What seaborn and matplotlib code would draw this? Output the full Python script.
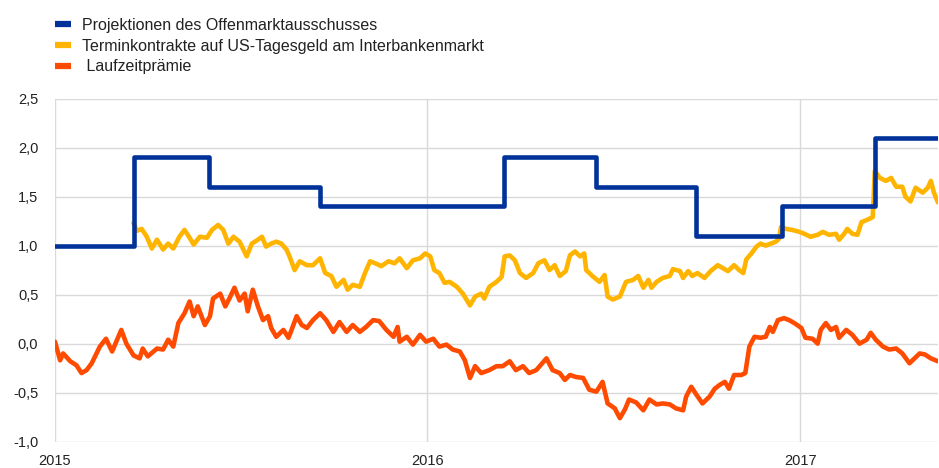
import matplotlib
matplotlib.use("Agg")
import matplotlib.pyplot as plt
from matplotlib.ticker import FuncFormatter
import seaborn as sns
import pandas as pd

# ---------------- data ----------------
START = "2015-01-01"
END_DAY = 866  # days after start shown on the x axis

labels = ["Projektionen des Offenmarktausschusses",
          "Terminkontrakte auf US-Tagesgeld am Interbankenmarkt",
          " Laufzeitprämie"]
colors = ["#003299", "#FFB400", "#FF4B00"]

# FOMC projections: step changes (days after 2015-01-01) and levels
fomc_days = [0, 77, 151, 260, 440, 531, 629, 713, 804, 866]
fomc_vals = [1.0, 1.9, 1.6, 1.4, 1.9, 1.6, 1.1, 1.4, 2.1, 2.1]

# Fed funds futures
fut_days = [77, 80, 85, 90, 95, 100, 106, 111, 116, 122, 127, 132, 136, 142, 149, 154,
            160, 165, 170, 175, 181, 188, 193, 199, 203, 207, 212, 217, 222, 227, 230,
            235, 240, 247, 253, 260, 265, 271, 276, 283, 287, 292, 299, 304, 309, 314,
            320, 327, 333, 338, 345, 351, 358, 363, 368, 372, 377, 382, 387, 394, 400,
            407, 412, 418, 421, 426, 433, 438, 441, 446, 451, 456, 462, 469, 474, 480,
            485, 490, 495, 501, 505, 510, 515, 519, 521, 527, 534, 539, 542, 547, 554,
            560, 567, 572, 577, 582, 585, 590, 596, 603, 606, 613, 616, 621, 625, 630,
            637, 643, 650, 655, 660, 666, 671, 675, 678, 683, 688, 692, 697, 702, 707,
            710, 712, 717, 723, 730, 735, 741, 748, 753, 759, 766, 769, 774, 777, 782,
            787, 791, 796, 802, 804, 809, 815, 820, 825, 831, 834, 839, 844, 851, 856,
            859, 862, 866]
fut_vals = [1.23, 1.15, 1.17, 1.09, 0.97, 1.06, 0.96, 1.02, 0.97, 1.09, 1.16, 1.08, 1.01,
            1.09, 1.08, 1.16, 1.21, 1.16, 1.02, 1.09, 1.04, 0.89, 1.02, 1.06, 1.09, 0.99,
            1.02, 1.04, 1.02, 0.96, 0.89, 0.75, 0.84, 0.80, 0.80, 0.87, 0.72, 0.69, 0.58,
            0.65, 0.55, 0.60, 0.58, 0.72, 0.84, 0.82, 0.79, 0.84, 0.82, 0.87, 0.77, 0.85,
            0.87, 0.92, 0.89, 0.75, 0.72, 0.62, 0.63, 0.58, 0.51, 0.39, 0.48, 0.51, 0.46,
            0.58, 0.63, 0.68, 0.89, 0.90, 0.85, 0.72, 0.67, 0.72, 0.82, 0.85, 0.75, 0.80,
            0.69, 0.74, 0.90, 0.94, 0.89, 0.92, 0.75, 0.69, 0.63, 0.70, 0.48, 0.45, 0.48,
            0.63, 0.65, 0.69, 0.57, 0.65, 0.57, 0.63, 0.67, 0.69, 0.76, 0.74, 0.67, 0.74,
            0.69, 0.72, 0.67, 0.74, 0.80, 0.77, 0.74, 0.80, 0.75, 0.72, 0.86, 0.92, 0.99,
            1.02, 1.00, 1.02, 1.04, 1.07, 1.19, 1.17, 1.16, 1.14, 1.12, 1.09, 1.11, 1.14,
            1.11, 1.12, 1.06, 1.12, 1.17, 1.12, 1.11, 1.24, 1.26, 1.29, 1.76, 1.69, 1.66,
            1.69, 1.60, 1.60, 1.50, 1.45, 1.59, 1.54, 1.59, 1.66, 1.54, 1.44]

# Term premium
tp_days = [0, 5, 8, 15, 21, 26, 31, 36, 44, 50, 56, 65, 70, 77, 83, 86, 91, 100, 106, 111,
           116, 121, 127, 132, 136, 140, 147, 152, 155, 162, 167, 171, 176, 181, 186, 189,
           194, 199, 204, 209, 212, 217, 224, 229, 232, 237, 242, 247, 253, 260, 266, 273,
           279, 286, 292, 299, 305, 312, 318, 325, 332, 336, 338, 345, 351, 358, 364, 371,
           377, 384, 390, 397, 402, 407, 412, 418, 426, 433, 439, 446, 452, 459, 465, 472,
           477, 482, 488, 495, 500, 505, 511, 518, 524, 531, 537, 542, 549, 554, 559, 563,
           570, 577, 583, 590, 596, 603, 609, 616, 619, 624, 629, 635, 642, 647, 652, 657,
           661, 666, 673, 677, 681, 686, 692, 697, 701, 704, 709, 715, 720, 725, 732, 736,
           743, 748, 751, 756, 761, 766, 769, 776, 782, 789, 796, 800, 805, 812, 818, 825,
           831, 838, 843, 848, 853, 859, 866]
tp_vals = [0.02, -0.17, -0.10, -0.18, -0.22, -0.30, -0.27, -0.20, -0.03, 0.05, -0.08, 0.14,
           0.00, -0.12, -0.15, -0.05, -0.13, -0.05, -0.06, 0.04, -0.03, 0.21, 0.31, 0.43,
           0.28, 0.38, 0.19, 0.28, 0.46, 0.51, 0.38, 0.46, 0.57, 0.44, 0.51, 0.33, 0.55,
           0.38, 0.24, 0.28, 0.16, 0.07, 0.14, 0.06, 0.14, 0.28, 0.19, 0.16, 0.24, 0.31,
           0.24, 0.12, 0.22, 0.12, 0.19, 0.12, 0.17, 0.24, 0.23, 0.14, 0.07, 0.17, 0.02,
           0.07, -0.01, 0.09, 0.02, 0.05, -0.03, -0.01, -0.06, -0.08, -0.17, -0.35, -0.23,
           -0.30, -0.27, -0.23, -0.23, -0.18, -0.27, -0.23, -0.30, -0.27, -0.21, -0.15,
           -0.27, -0.30, -0.37, -0.32, -0.34, -0.35, -0.47, -0.49, -0.39, -0.61, -0.66,
           -0.76, -0.67, -0.57, -0.60, -0.68, -0.57, -0.62, -0.61, -0.62, -0.66, -0.68,
           -0.54, -0.44, -0.52, -0.61, -0.54, -0.46, -0.42, -0.39, -0.46, -0.32, -0.32,
           -0.30, -0.03, 0.07, 0.06, 0.07, 0.17, 0.12, 0.24, 0.26, 0.24, 0.21, 0.16, 0.06,
           0.05, 0.00, 0.14, 0.21, 0.14, 0.17, 0.06, 0.14, 0.09, 0.00, 0.04, 0.11, 0.04,
           -0.03, -0.06, -0.05, -0.10, -0.20, -0.15, -0.10, -0.11, -0.15, -0.18]

year_ticks = ["2015-01-01", "2016-01-01", "2017-01-01"]
year_labels = ["2015", "2016", "2017"]
y_ticks = [-1.0, -0.5, 0.0, 0.5, 1.0, 1.5, 2.0, 2.5]

# ---------------- build frames ----------------
t0 = pd.Timestamp(START)
def to_dates(days):
    return t0 + pd.to_timedelta(days, unit="D")

df_fomc = pd.DataFrame({"date": to_dates(fomc_days), "value": fomc_vals})
df_fut = pd.DataFrame({"date": to_dates(fut_days), "value": fut_vals})
df_tp = pd.DataFrame({"date": to_dates(tp_days), "value": tp_vals})

# ---------------- plot ----------------
sns.set_theme(style="white")
plt.rcParams["font.family"] = ["Liberation Sans", "DejaVu Sans"]

fig = plt.figure(figsize=(9.39, 4.68), dpi=100)
ax = fig.add_axes([55 / 939, (468 - 441.7) / 468, 883 / 939, 343.2 / 468])

lw = 3.3
sns.lineplot(data=df_fomc, x="date", y="value", ax=ax, color=colors[0], lw=lw,
             drawstyle="steps-post", label=labels[0], zorder=3)
sns.lineplot(data=df_fut, x="date", y="value", ax=ax, color=colors[1], lw=lw,
             label=labels[1], zorder=2)
sns.lineplot(data=df_tp, x="date", y="value", ax=ax, color=colors[2], lw=lw,
             label=labels[2], zorder=2)

ax.set_xlim(t0, t0 + pd.Timedelta(days=END_DAY))
ax.set_ylim(-1.0, 2.5)
ax.set_yticks(y_ticks)
ax.yaxis.set_major_formatter(FuncFormatter(lambda v, p: f"{v:.1f}".replace(".", ",")))
ax.set_xticks(pd.to_datetime(year_ticks))
ax.set_xticklabels(year_labels)
ax.set_xlabel("")
ax.set_ylabel("")

ax.grid(True, color="#d9d9d9", lw=1.0)
ax.set_axisbelow(True)
for s in ax.spines.values():
    s.set_visible(False)
ax.tick_params(axis="both", length=0, labelsize=10.5, colors="#222222")
ax.tick_params(axis="y", pad=12)
ax.tick_params(axis="x", pad=9)

handles, labs = ax.get_legend_handles_labels()
ax.get_legend().remove()
leg = fig.legend(handles, labs, loc="upper left", bbox_to_anchor=(55 / 939, 1 - 18 / 468),
                 frameon=False, fontsize=11.5, handlelength=1.0, handletextpad=0.69,
                 labelspacing=0.36, borderaxespad=0, borderpad=0)
for h in leg.get_lines():
    h.set_linewidth(4.5)
    h.set_solid_capstyle("butt")
for t in leg.get_texts():
    t.set_color("#222222")

fig.savefig("out.png", dpi=100)
